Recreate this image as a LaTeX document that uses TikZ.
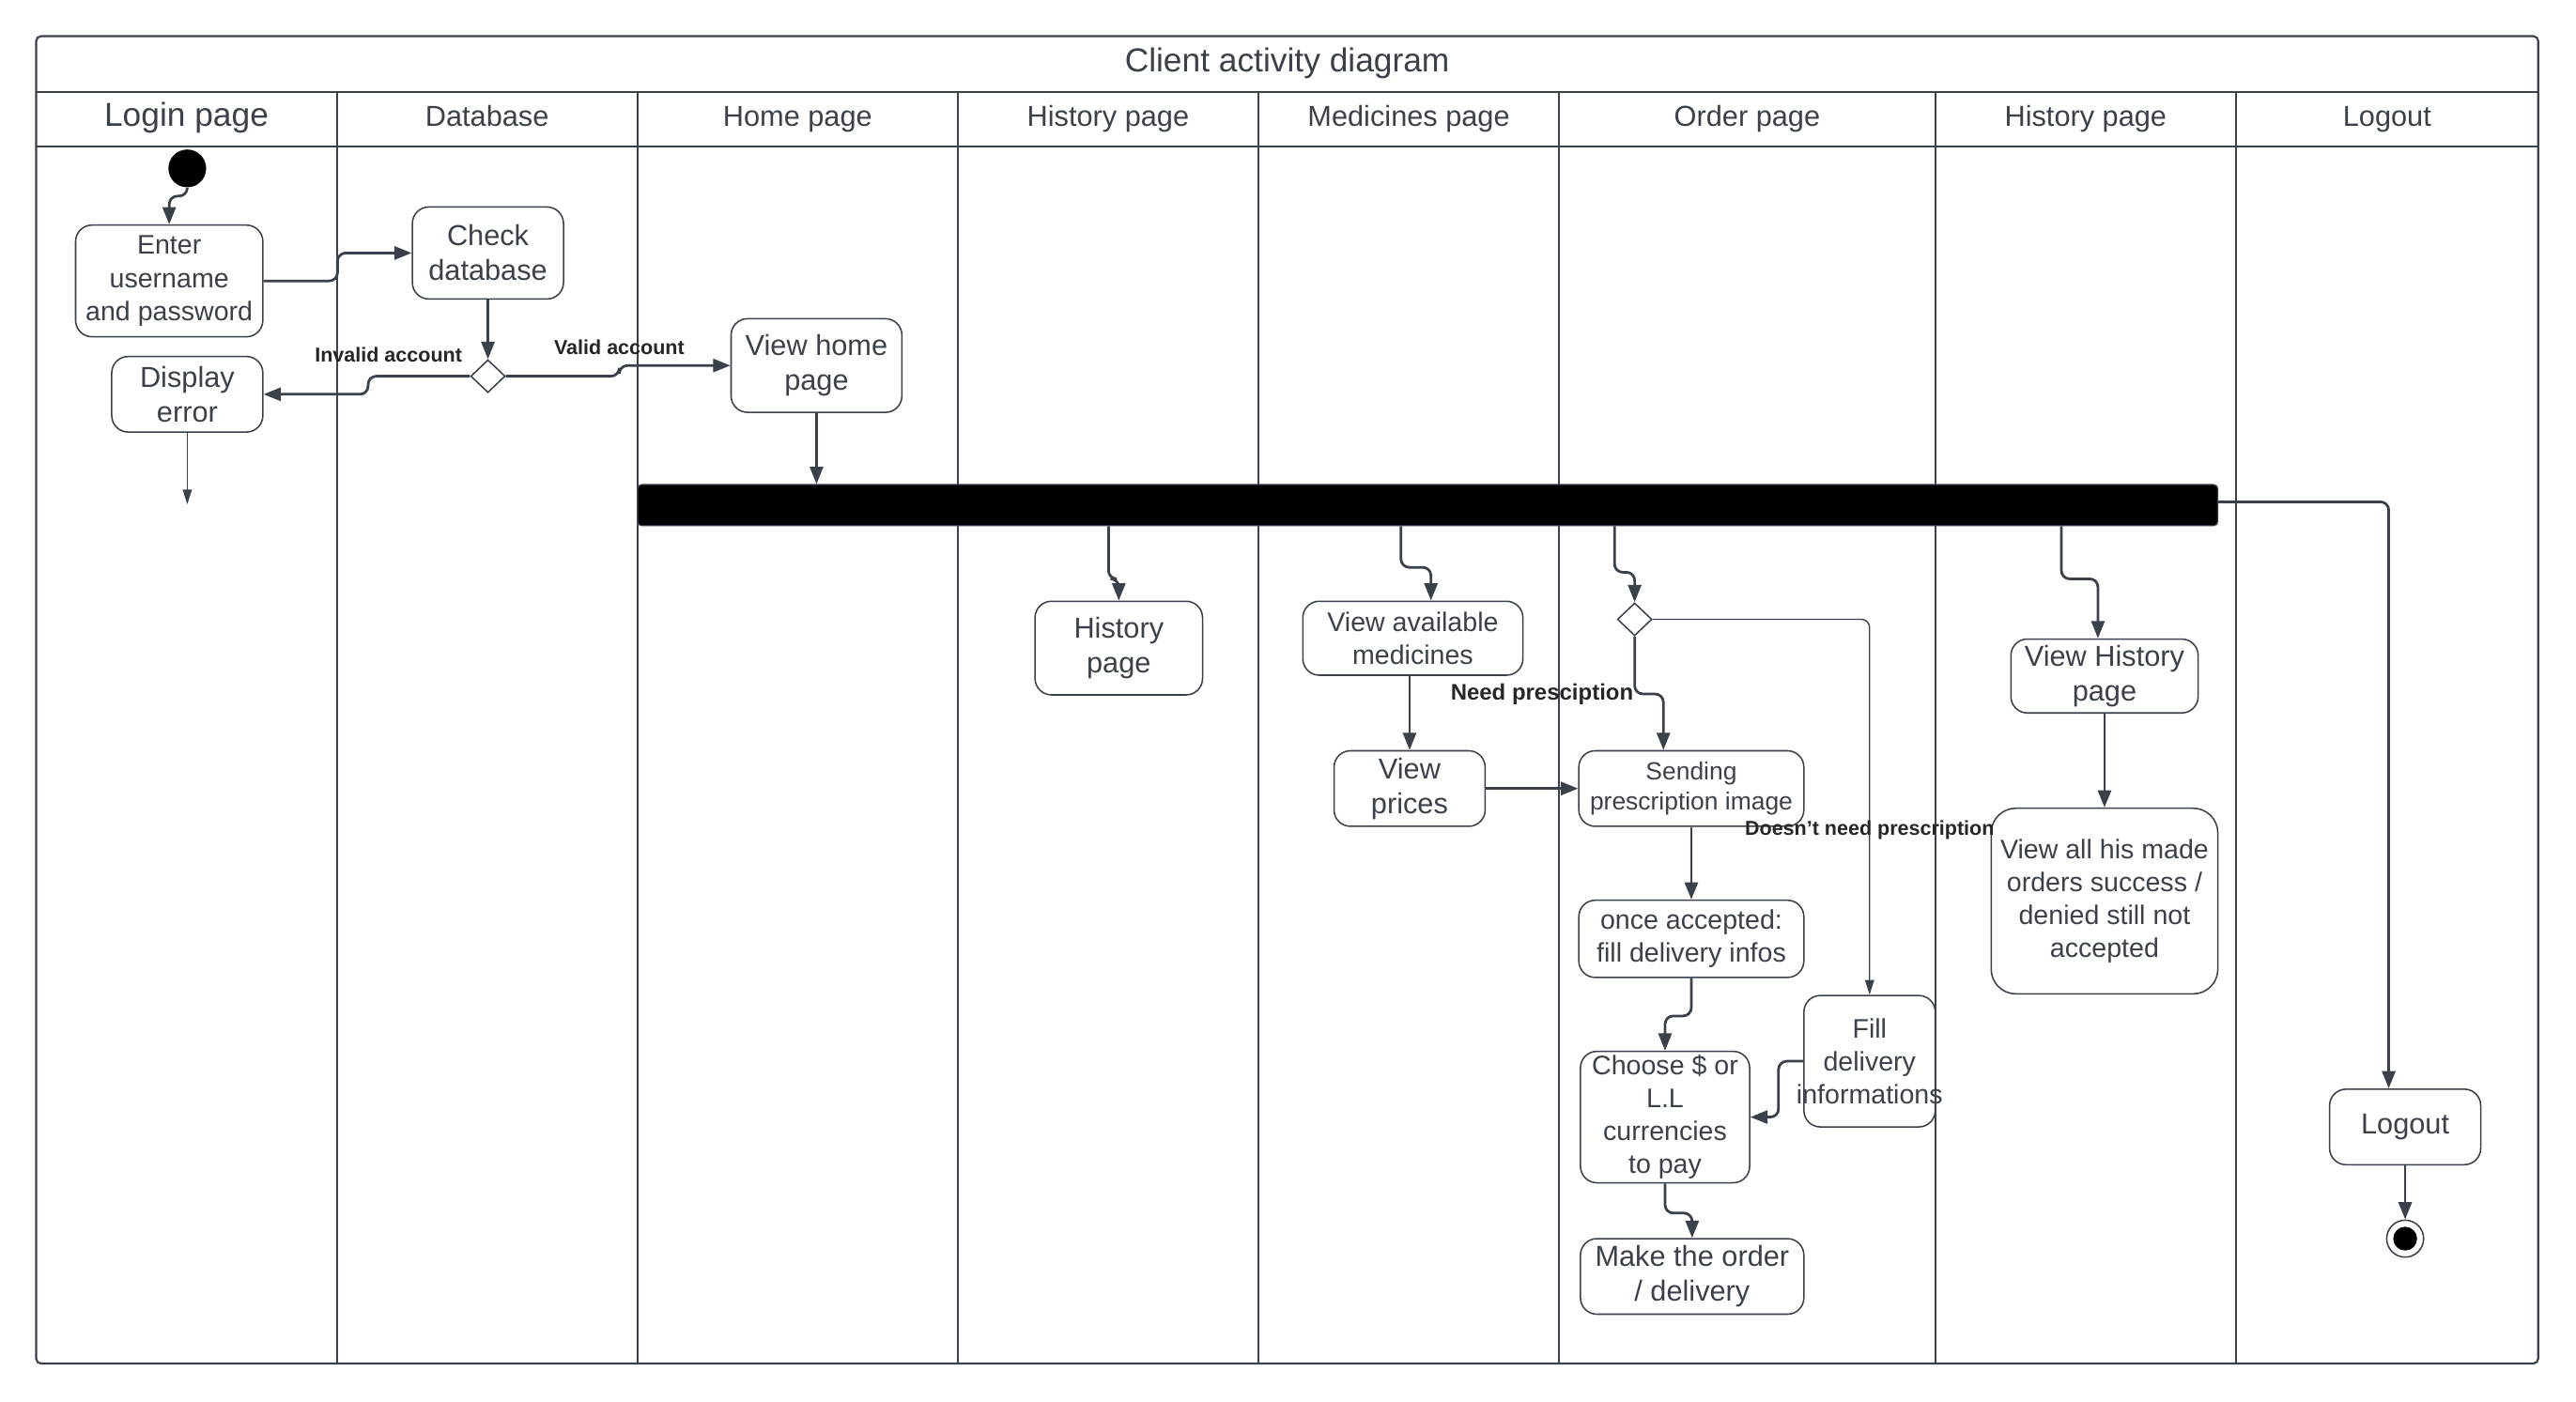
\documentclass[tikz,border=0pt]{standalone}
\usepackage{fontspec}
\setmainfont{Liberation Sans}
\usetikzlibrary{arrows.meta, calc, positioning, shapes.geometric}
\definecolor{ink}{HTML}{3A414A}
\newcommand{\titlesize}{\fontsize{11.5}{13.8}\selectfont}
\newcommand{\lanesize}{\fontsize{10}{12}\selectfont}
\newcommand{\actbig}{\fontsize{10}{12}\selectfont}
\newcommand{\actmid}{\fontsize{9.3}{11.4}\selectfont}
\newcommand{\actsmall}{\fontsize{8.6}{10.2}\selectfont}
\newcommand{\lblsize}{\fontsize{7}{8}\selectfont\bfseries}

\begin{document}
\begin{tikzpicture}[
    x=0.02cm, y=-0.02cm,
    act/.style={draw=ink, line width=0.5pt, rounded corners=2mm, align=center, text=ink, inner sep=0pt, font=\actbig},
    lane/.style={draw=ink, line width=0.7pt},
    lanetitle/.style={anchor=base, text=ink, font=\lanesize},
    decision/.style={diamond, draw=ink, fill=white, line width=0.5pt, inner sep=0pt, minimum width=0.42cm, minimum height=0.4cm},
    arrow/.style={-{Triangle[length=2.1mm, width=1.6mm]}, line width=0.9pt, draw=ink, rounded corners=1mm},
    thinarrow/.style={-{Triangle[length=1.8mm, width=1.1mm]}, line width=0.45pt, draw=ink, rounded corners=1mm},
    lbl/.style={font=\lblsize, text=black!85, inner sep=1pt}
]
\useasboundingbox (0,0) rectangle (1568,853);

% swimlane frame
\draw[lane, rounded corners=0.6mm] (22,22) rectangle (1545,830);
\draw[lane] (22,56) -- (1545,56);
\draw[lane] (22,89) -- (1545,89);
\foreach \x in {205,388,583,766,949,1178,1361}
    \draw[lane] (\x,56) -- (\x,830);

\node[anchor=base, text=ink, font=\titlesize] (title) at (783.5,44) {Client activity diagram};
\node[lanetitle, font=\titlesize] (lane1) at (113.5,77) {Login page};
\foreach \x/\t [count=\i from 2] in {296.5/Database, 485.5/Home page, 674.5/History page, 857.5/Medicines page, 1063.5/Order page, 1269.5/History page, 1453/Logout}
    \node[lanetitle] (lane\i) at (\x,77) {\t};

% login and database
\node[circle, fill=black, inner sep=0pt, minimum size=0.46cm] (start) at (114,102.5) {};
\node[act, font=\actmid, minimum width=2.28cm, minimum height=1.36cm] (enter) at (103,171) {Enter\\username\\and password};
\node[act, minimum width=1.84cm, minimum height=1.12cm] (check) at (297,154) {Check\\database};
\node[decision] (dec1) at (297,229) {};
\node[act, minimum width=1.84cm, minimum height=0.92cm] (err) at (114,240) {Display\\error};
\coordinate (errend) at (114,307);
\node[act, minimum width=2.08cm, minimum height=1.14cm] (home) at (497,222.5) {View home\\page};

% fork bar
\node[fill=black, draw=ink, rounded corners=0.5mm, inner sep=0pt, minimum width=19.24cm, minimum height=0.5cm] (fork) at (869,307.5) {};

% pages
\node[act, minimum width=2.04cm, minimum height=1.14cm] (hist) at (681,394.5) {History\\page};
\node[act, font=\actmid, minimum width=2.68cm, minimum height=0.9cm] (meds) at (860,388.5) {View available\\medicines};
\node[act, minimum width=1.84cm, minimum height=0.92cm] (prices) at (858,480) {View\\prices};
\node[decision] (dec2) at (995,377) {};
\node[act, font=\actsmall, minimum width=2.74cm, minimum height=0.92cm] (send) at (1029.5,480) {Sending\\prescription image};
\node[act, font=\actmid, minimum width=2.74cm, minimum height=0.94cm] (accept) at (1029.5,571.5) {once accepted:\\fill delivery infos};
\node[act, font=\actmid, inner xsep=-1mm, minimum width=1.6cm, minimum height=1.6cm] (fillinfo) at (1138,646) {Fill\\delivery\\informations};
\node[act, font=\actmid, minimum width=2.06cm, minimum height=1.6cm] (choose) at (1013.5,680) {Choose \$ or\\L.L\\currencies\\to pay};
\node[act, minimum width=2.72cm, minimum height=0.92cm] (make) at (1030,777) {Make the order\\/ delivery};
\node[act, minimum width=2.28cm, minimum height=0.9cm] (vhist) at (1281,411.5) {View History\\page};
\node[act, font=\actmid, rounded corners=3mm, minimum width=2.76cm, minimum height=2.26cm] (allord) at (1281,548.5) {View all his made\\orders success /\\denied still not\\accepted};
\node[act, minimum width=1.84cm, minimum height=0.92cm] (logoutn) at (1464,686) {Logout};
\node[circle, draw=ink, fill=white, line width=0.5pt, inner sep=0pt, minimum size=0.45cm] (stop) at (1464,754) {};
\node[circle, fill=black, inner sep=0pt, minimum size=0.29cm] (stopdot) at (stop) {};

% connectors
\draw[arrow] (start.south) -- ++(0,5) -| (enter.north);
\draw[arrow] (enter.east) -- ++(45,0) |- (check.west);
\draw[arrow] (check) -- (dec1);
\draw[arrow] (dec1.west) -- node[lbl, above, pos=0.8, yshift=1.2mm] {Invalid account} ++(-62,0) |- (err.east);
\draw[arrow] (dec1.east) -- ++(69,0) |- node[lbl, above, pos=0.5, yshift=0.8mm] {Valid account} (home.west);
\draw[thinarrow] (err) -- (errend);
\draw[arrow] (home.south) -- (home.south |- fork.north);
\draw[arrow] ($(fork.south west)+(287,0)$) -- ++(0,32) -| (hist.north);
\draw[arrow] ($(fork.south west)+(465,0)$) -- ++(0,25) -| ($(meds.north)+(11,0)$);
\draw[arrow] ($(fork.south west)+(595,0)$) -- ++(0,28) -| (dec2.north);
\draw[arrow] ($(fork.south west)+(867,0)$) -- ++(0,32) -| ($(vhist.north)+(-4,0)$);
\draw[arrow] ($(fork.east)+(0,-2)$) -| ($(logoutn.north)+(-10,0)$);
\draw[arrow] (meds.south -| prices.north) -- (prices.north);
\draw[arrow] (prices) -- (send);
\draw[arrow] (dec2.south) -- ++(0,35) node[lbl, font=\fontsize{7.8}{9}\selectfont\bfseries, anchor=east, inner xsep=0pt] {Need presciption} -| ($(send.north)+(-17,0)$);
\draw[thinarrow] (dec2.east) -| node[lbl, pos=0.78] {Doesn't need prescription} (fillinfo.north);
\draw[arrow] (send) -- (accept);
\draw[arrow] (accept.south) -- ++(0,23) -| (choose.north);
\draw[arrow] (fillinfo.west) -- ++(-15,0) |- (choose.east);
\draw[arrow] (choose.south) -- ++(0,18) -| (make.north);
\draw[arrow] (vhist) -- (allord);
\draw[arrow] (logoutn) -- (stop);
\end{tikzpicture}
\end{document}
